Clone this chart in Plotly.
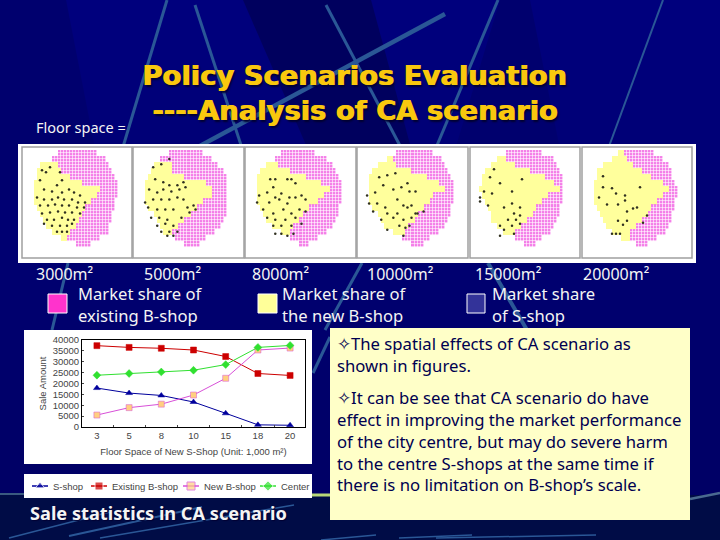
import numpy as np
import plotly.graph_objects as go

W = 720
H = 540

# line chart values
floor_space = ["3", "5", "8", "10", "15", "18", "20"]
s_shop = [17900, 15600, 14500, 11500, 6300, 1000, 800]
existing_b = [37400, 36600, 36200, 35400, 32400, 24600, 23700]
new_b = [5500, 8900, 10500, 14700, 22400, 35400, 36300]
center = [23800, 24600, 25300, 26100, 28700, 36600, 37500]
y_ticks = [0, 5000, 10000, 15000, 20000, 25000, 30000, 35000, 40000]

# map outlines, one entry per 6px row: first cell, yellow/pink split, last cell
map_labels = ["3000m\u00b2", "5000m\u00b2", "8000m\u00b2", "10000m\u00b2", "15000m\u00b2", "20000m\u00b2"]
left1 = [12, 10, 6, 5, 5, 4, 4, 4, 4, 5, 6, 7, 8, 10, 13, 18]
split1 = [12, 10, 12, 13, 16, 20, 26, 25, 23, 21, 20, 19, 18, 16, 15, 18]
right1 = [25, 28, 29, 30, 31, 32, 32, 32, 31, 31, 30, 30, 29, 29, 26, 23]
left2 = [12, 9, 7, 6, 5, 4, 4, 4, 4, 5, 7, 8, 9, 10, 14, 17]
split2 = [12, 9, 13, 13, 17, 24, 26, 26, 23, 21, 19, 17, 15, 13, 14, 17]
right2 = [23, 26, 28, 30, 31, 31, 31, 31, 31, 31, 31, 30, 29, 27, 24, 22]
left3 = [12, 10, 7, 5, 4, 4, 4, 4, 4, 5, 6, 7, 9, 12, 15, 18]
split3 = [12, 10, 11, 15, 20, 25, 28, 26, 24, 21, 19, 18, 16, 15, 15, 18]
right3 = [23, 27, 29, 30, 31, 32, 32, 32, 32, 31, 31, 30, 29, 27, 24, 21]
left4 = [13, 10, 7, 5, 4, 4, 4, 4, 4, 5, 7, 8, 9, 12, 15, 18]
split4 = [13, 12, 13, 18, 23, 27, 29, 25, 24, 22, 20, 19, 17, 16, 15, 18]
right4 = [25, 28, 29, 30, 31, 32, 32, 32, 32, 31, 31, 30, 29, 27, 24, 22]
left5 = [12, 9, 7, 5, 4, 4, 3, 4, 5, 6, 7, 7, 9, 11, 15, 18]
split5 = [12, 12, 15, 20, 25, 28, 30, 26, 24, 22, 21, 19, 17, 15, 15, 18]
right5 = [24, 28, 29, 30, 31, 31, 31, 31, 31, 30, 30, 29, 28, 27, 24, 22]
left6 = [12, 10, 7, 5, 5, 4, 4, 4, 4, 5, 6, 7, 8, 10, 13, 18]
split6 = [14, 15, 17, 20, 23, 27, 29, 27, 25, 23, 22, 20, 18, 16, 16, 18]
right6 = [24, 27, 29, 30, 30, 31, 32, 32, 31, 31, 30, 30, 29, 28, 25, 22]

# shops on each map
shops_x1 = [20, 24, 28, 18, 38, 40, 35, 22, 30, 40, 47, 52, 58, 15, 22, 30, 36, 42, 50, 56, 63, 18, 26, 33, 40, 47, 55, 62,
            20, 28, 36, 43, 50, 58, 25, 32, 40, 46, 52, 22, 30, 38, 45, 50, 35, 40, 45]
shops_y1 = [23, 25, 20, 33, 25, 33, 38, 42, 44, 45, 42, 45, 48, 50, 52, 52, 50, 52, 52, 55, 55, 58, 58, 57, 58, 58, 60, 60,
            66, 65, 64, 65, 65, 66, 72, 72, 70, 72, 72, 76, 78, 78, 78, 76, 84, 84, 84]
shops_x2 = [20, 28, 36, 22, 30, 36, 44, 50, 16, 24, 30, 38, 46, 52, 12, 20, 28, 36, 44, 50, 15, 24, 32, 40, 54, 60,
            18, 26, 34, 48, 56, 62, 24, 32, 40, 28, 36, 44, 34, 40]
shops_y2 = [20, 17, 12, 32, 35, 38, 38, 35, 42, 45, 42, 44, 42, 40, 55, 52, 52, 52, 50, 52, 60, 62, 62, 62, 60, 58,
            70, 70, 72, 70, 65, 62, 78, 76, 78, 84, 84, 84, 88, 88]
shops_x3 = [25, 30, 28, 42, 46, 50, 14, 22, 30, 36, 44, 50, 56, 12, 24, 34, 42, 60, 18, 28, 38, 46, 54, 60,
            22, 30, 40, 50, 28, 36, 46, 56, 30, 36, 42, 48]
shops_y3 = [32, 32, 40, 32, 32, 36, 48, 45, 50, 46, 50, 50, 48, 55, 55, 52, 56, 52, 62, 66, 62, 66, 62, 64,
            70, 72, 72, 70, 78, 78, 78, 76, 86, 86, 88, 86]
shops_x4 = [22, 30, 38, 18, 26, 36, 44, 50, 52, 58, 10, 12, 20, 28, 40, 46, 16, 30, 40, 50, 54, 60, 66,
            24, 36, 46, 54, 58, 30, 42, 48, 52, 46]
shops_y4 = [30, 28, 26, 45, 38, 42, 40, 36, 44, 44, 48, 56, 56, 60, 52, 58, 64, 66, 66, 60, 58, 66, 64,
            72, 70, 72, 70, 66, 82, 78, 80, 78, 88]
shops_x5 = [24, 20, 30, 14, 22, 10, 42, 52, 18, 10, 34, 42, 50, 44, 50, 38, 46, 30, 34, 42, 50, 44, 30]
shops_y5 = [22, 30, 36, 44, 46, 50, 44, 32, 58, 54, 60, 56, 60, 66, 68, 72, 72, 78, 82, 78, 76, 86, 88]
shops_x6 = [21, 21, 30, 58, 17, 34, 43, 43, 25, 36, 51, 55, 45, 65, 36, 45, 41, 61, 30, 34, 38]
shops_y6 = [29, 40, 41, 40, 50, 46, 48, 53, 57, 57, 61, 60, 64, 68, 73, 73, 77, 75, 86, 86, 86]

# slide text
title_lines = ["Policy Scenarios Evaluation", "----Analysis of CA scenario"]
note_lines = ["\u2727The spatial effects of CA scenario as", "shown in figures.",
              "\u2727It can be see that CA scenario do have", "effect in improving the market performance",
              "of the city centre, but may do severe harm", "to the centre S-shops at the same time if",
              "there is no limitation on B-shop\u2019s scale."]
note_y = [343, 365, 397, 419, 441, 463, 484]


def px(x):
    return x / W


def py(y):
    return 1 - y / H


def rect(x0, y0, x1, y1, fill, line=None, width=0):
    return dict(type="rect", xref="paper", yref="paper", layer="below",
                x0=px(x0), x1=px(x1), y0=py(y0), y1=py(y1), fillcolor=fill,
                line=dict(color=line, width=width) if line else dict(width=0))


def streak(x0, y0, x1, y1, width=3, color="#2a5796"):
    return dict(type="line", xref="paper", yref="paper", layer="below",
                x0=px(x0), x1=px(x1), y0=py(y0), y1=py(y1),
                line=dict(color=color, width=width))


def wedge(points, fill):
    d = "M " + " L ".join("%.4f,%.4f" % (px(a), py(b)) for a, b in points) + " Z"
    return dict(type="path", xref="paper", yref="paper", layer="below", path=d,
                fillcolor=fill, line=dict(width=0))


def text(x, y, s, size=16, color="#f4f4f4", family="Noto Sans", anchor="left", shadow=None, weight=None):
    font = dict(size=size, color=color, family=family)
    if shadow:
        font["shadow"] = shadow
    if weight:
        font["weight"] = weight
    return dict(xref="paper", yref="paper", x=px(x), y=py(y), text=s, showarrow=False,
                xanchor=anchor, yanchor="middle", font=font, borderpad=0, borderwidth=0)


fig = go.Figure()

# background, the lower strip is darker
shapes = []
for i in range(25):
    shapes.append(rect(0, i * 20, W, (i + 1) * 20 + 1, "rgb(0,0,%d)" % (125 - i)))
shapes.append(rect(0, 495, W, H, "#000c46"))
shapes.append(wedge([(243, 0), (371, 0), (425, 200), (330, 200)], "#00005e"))
shapes.append(wedge([(66, 0), (0, 0), (0, 200), (105, 200)], "#00006e"))
shapes.append(wedge([(500, 0), (530, 0), (570, 200), (440, 200)], "#00006e"))
shapes.append(streak(167, 0, 108, 197, 3))
shapes.append(streak(195, 5, 261, 206, 3))
shapes.append(streak(326, 5, 427, 197, 3))
shapes.append(streak(498, 0, 417, 193, 3))
shapes.append(streak(663, 0, 587, 206, 2))
shapes.append(streak(445, 14, 105, 197, 4.5))
shapes.append(streak(68, 263, 52, 330, 3))
shapes.append(streak(362, 263, 325, 330, 3))
shapes.append(streak(488, 263, 527, 330, 4))
shapes.append(streak(330, 337, 313, 373, 3))
shapes.append(streak(9, 538, 110, 512, 1.5))
shapes.append(streak(69, 536, 202, 507, 2))
shapes.append(streak(100, 538, 294, 505, 1.5))
shapes.append(streak(321, 540, 376, 535, 1.5))
shapes.append(streak(399, 538, 472, 535, 1.5))
shapes.append(streak(436, 538, 596, 535, 1.5))
shapes.append(streak(690, 499, 720, 493, 2.5, "#4a6a90"))
shapes.append(streak(0, 494, 24, 494, 2, "#3a5a80"))
shapes.append(streak(312, 495, 330, 495, 3, "#b8d878"))

# white frame of the maps
shapes.append(rect(18, 144, 696, 263, "#ffffff"))
panels = [(22, 132), (133, 244), (245, 356), (357, 468), (470, 580), (582, 692)]
for a, b in panels:
    shapes.append(rect(a, 147, b, 258, "#ffffff", "#a0a0a0", 1.5))

# key squares
shapes.append(rect(48, 294, 67, 313, "#ff33cc", "#ffffff", 1))
shapes.append(rect(258, 294, 277, 313, "#ffff99", "#ffffff", 1))
shapes.append(rect(467, 294, 485, 313, "#333399", "#ffffff", 1))

# chart, legend and note panels
shapes.append(rect(24, 330, 312, 464, "#ffffff"))
shapes.append(rect(24, 474, 312, 498, "#ffffff"))
shapes.append(rect(330, 328, 690, 520, "#ffffc8"))

# maps
outlines = [(left1, split1, right1), (left2, split2, right2), (left3, split3, right3),
            (left4, split4, right4), (left5, split5, right5), (left6, split6, right6)]
shops = [(shops_x1, shops_y1), (shops_x2, shops_y2), (shops_x3, shops_y3),
         (shops_x4, shops_y4), (shops_x5, shops_y5), (shops_x6, shops_y6)]
layout_axes = {}
for i in range(6):
    n = str(i + 1) if i else ""
    left, split, right = outlines[i]
    yellow = np.full((len(left), 36), np.nan)
    pink = np.full((len(left), 36), np.nan)
    for r in range(len(left)):
        yellow[r, left[r]:split[r]] = 1
        pink[r, split[r]:right[r]] = 1
    col_x = [1.5 + 3 * c for c in range(36)]
    row_y = [4.5 + 3 * r for r in range(2 * len(left))]
    fig.add_trace(go.Heatmap(z=np.repeat(yellow, 2, axis=0), x=col_x, y=row_y, showscale=False,
                             colorscale=[[0, "#ffff9c"], [1, "#ffff9c"]],
                             xaxis="x" + n, yaxis="y" + n, showlegend=False))
    fig.add_trace(go.Heatmap(z=np.repeat(pink, 2, axis=0), x=col_x, y=row_y, showscale=False,
                             xgap=0.6, ygap=0.6, colorscale=[[0, "#f47ee8"], [1, "#f47ee8"]],
                             xaxis="x" + n, yaxis="y" + n, showlegend=False))
    fig.add_trace(go.Scatter(x=shops[i][0], y=shops[i][1], mode="markers",
                             marker=dict(size=2.5, color="#303020"),
                             xaxis="x" + n, yaxis="y" + n, showlegend=False))
    a, b = panels[i]
    layout_axes["xaxis" + n] = dict(domain=[px(a), px(b)], range=[0, 110], visible=False,
                                    anchor="y" + n)
    layout_axes["yaxis" + n] = dict(domain=[py(258), py(147)], range=[110, 0], visible=False,
                                    anchor="x" + n)

# line chart
series = [("S-shop", s_shop, "#00009c", "#00009c", "triangle-up"),
          ("Existing B-shop", existing_b, "#cc0000", "#cc0000", "square"),
          ("New B-shop", new_b, "#d850d8", "#ffd080", "square"),
          ("Center", center, "#30e030", "#30e030", "diamond")]
key_x = [40, 99, 191, 268]
notes = []
for (name, vals, col, fill, sym), kx in zip(series, key_x):
    fig.add_trace(go.Scatter(x=floor_space, y=vals, name=name, mode="lines+markers",
                             line=dict(color=col, width=1),
                             marker=dict(symbol=sym, size=6, color=fill, line=dict(color=col, width=0.5)),
                             xaxis="x7", yaxis="y7", showlegend=False))
    # hand drawn key, the legend box is too tight for plotly's own legend
    fig.add_trace(go.Scatter(x=[kx - 8, kx, kx + 8], y=[0, 0, 0], mode="lines+markers",
                             line=dict(color=col, width=1.5),
                             marker=dict(symbol=sym, size=[0, 8, 0], color=fill),
                             xaxis="x8", yaxis="y8", showlegend=False))
    notes.append(text(kx + 13, 486, name, size=9.5, color="#444444", family="Liberation Sans"))

layout_axes["xaxis7"] = dict(domain=[px(82), px(305)], anchor="y7", type="category",
                             showline=True, mirror=True, linecolor="#000000", linewidth=1,
                             tickson="boundaries", ticks="inside", ticklen=2, showgrid=False,
                             tickfont=dict(size=9.5, color="#444444", family="Liberation Sans"),
                             title=dict(text="Floor Space of New S-Shop (Unit: 1,000 m\u00b2)", standoff=7,
                                        font=dict(size=9.5, color="#444444", family="Liberation Sans")))
layout_axes["yaxis7"] = dict(domain=[py(427), py(340)], anchor="x7", range=[0, 40000], tickvals=y_ticks,
                             tickformat="d",
                             showline=True, mirror=True, linecolor="#000000", linewidth=1,
                             ticks="inside", ticklen=2, showgrid=False, zeroline=False,
                             tickfont=dict(size=9.5, color="#444444", family="Liberation Sans"),
                             title=dict(text="Sale Amount", standoff=4,
                                        font=dict(size=9.5, color="#444444", family="Liberation Sans")))
layout_axes["xaxis8"] = dict(domain=[px(24), px(312)], range=[24, 312], visible=False, anchor="y8")
layout_axes["yaxis8"] = dict(domain=[py(498), py(474)], range=[-1, 1], visible=False, anchor="x8")

# text
title_shadow = "1px 0 0 #f9c80e, 2px 2px 2px #000030"
notes.append(text(36, 127, "Floor space =", size=14.5))
notes.append(text(354, 76, title_lines[0], size=27.4, color="#f9c80e", family="DejaVu Sans",
                  anchor="center", shadow=title_shadow, weight="bold"))
notes.append(text(354, 110, title_lines[1], size=27.4, color="#f9c80e", family="DejaVu Sans",
                  anchor="center", shadow=title_shadow, weight="bold"))
label_x = [36, 144, 252, 367, 475, 583]
for x, s in zip(label_x, map_labels):
    notes.append(text(x, 274, s, size=16))
notes.append(text(78, 293, "Market share of", size=16.6))
notes.append(text(78, 315, "existing B-shop", size=16.6))
notes.append(text(282, 293, "Market share of", size=16.6))
notes.append(text(282, 315, "the new B-shop", size=16.6))
notes.append(text(492, 293, "Market share", size=16.6))
notes.append(text(492, 315, "of S-shop", size=16.6))
for s, y in zip(note_lines, note_y):
    notes.append(text(337, y, s, size=16.7, color="#000050"))
notes.append(text(30, 513, "Sale statistics in CA scenario", size=18.2, family="Noto Sans",
                  shadow="1px 1px 1px #000033", weight="bold"))

fig.update_layout(width=W, height=H, margin=dict(l=0, r=0, t=0, b=0, autoexpand=False), autosize=False,
                  paper_bgcolor="#00007a", plot_bgcolor="rgba(0,0,0,0)",
                  shapes=shapes, annotations=notes, showlegend=False,
                  **layout_axes)

fig.write_html("out.html", config=dict(displayModeBar=False),
               post_script="document.body.style.margin='0';document.body.style.overflow='hidden';")
